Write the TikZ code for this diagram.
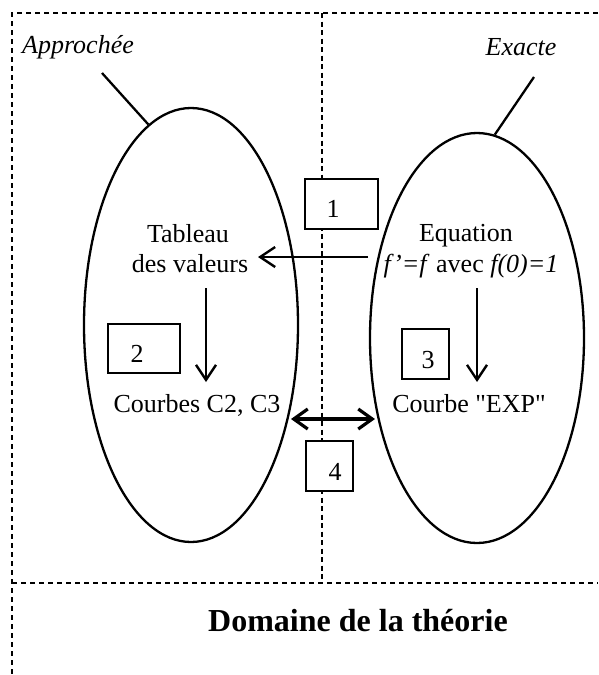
\documentclass[tikz,border=0pt]{standalone}
\usepackage{fontspec}
\setmainfont{Liberation Serif}
\newfontfamily\plainserif{Liberation Serif}
\usetikzlibrary{shapes.geometric,arrows.meta}
\begin{document}
\begin{tikzpicture}[x=1pt,y=-1pt,
  frame/.style={line width=1.4pt, dash pattern=on 5pt off 4pt},
  midline/.style={line width=1.1pt, dash pattern=on 5pt off 3.5pt},
  oval/.style={draw, ellipse, line width=2.3pt, inner sep=0pt},
  numbox/.style={draw, line width=2pt, fill=white, inner sep=0pt},
  txt/.style={font=\fontsize{26}{30}\selectfont, inner sep=0pt},
  arr/.style={line width=2.4pt, -{Straight Barb[length=15pt,width=20pt]}},
  darr/.style={line width=3.2pt, {Straight Barb[length=14pt,width=20pt]}-{Straight Barb[length=14pt,width=20pt]}},
  ]
\useasboundingbox (0,0) rectangle (598,675);
% frame
\coordinate (tl) at (12,13);
\coordinate (tr) at (598,13);
\coordinate (bl) at (12,675);
\coordinate (ml) at (12,583);
\coordinate (mr) at (598,583);
\coordinate (vt) at (322,13);
\coordinate (vb) at (322,583);
\draw[frame] (tr) -- (tl) -- (bl);
\draw[frame] (ml) -- (mr);
\draw[midline] (vt) -- (vb);

% ellipses
\node[oval, minimum width=214pt, minimum height=434pt] (L) at (191,325) {};
\node[oval, minimum width=214pt, minimum height=410pt] (R) at (477,338) {};

% titles
\node[txt, anchor=base west, font=\fontsize{26}{30}\selectfont\itshape] (appr) at (22,53) {Approchée};
\node[txt, anchor=base, font=\fontsize{26}{30}\selectfont\itshape] (exac) at (521,55) {Exacte};
\coordinate (aT) at (102,73);
\coordinate (eT) at (534,77);
\draw[line width=2.3pt] (aT) -- (L.102.3);
\draw[line width=2.3pt] (eT) -- (R.85.2);

% texts
\node[txt, anchor=base] (tab) at (188,242) {Tableau};
\node[txt, anchor=base] (dv) at (190,272) {des valeurs};
\node[txt, anchor=base] (eq) at (466,241) {Equation};
\node[txt, anchor=base] (ff) at (471,272) {\textit{f’=f} avec \textit{f(0)=1}};
\node[txt, anchor=base] (cc) at (197,412) {Courbes C2, C3};
\node[txt, anchor=base] (ce) at (469,412) {\plainserif Courbe "EXP"};
\node[anchor=base west, inner sep=0pt, font=\fontsize{32}{36}\selectfont\bfseries] (dom) at (208,631) {Domaine de la théorie};

% boxes
\node[numbox, minimum width=73pt, minimum height=50pt] (b1) at (341.5,204) {};
\node[numbox, minimum width=72pt, minimum height=49pt] (b2) at (144,348.5) {};
\node[numbox, minimum width=47pt, minimum height=50pt] (b3) at (425.5,354) {};
\node[numbox, minimum width=47pt, minimum height=50pt] (b4) at (329.5,466) {};
\node[txt, anchor=base] (n1) at (333,217) {1};
\node[txt, anchor=base] (n2) at (137,362) {2};
\node[txt, anchor=base] (n3) at (428,368) {3};
\node[txt, anchor=base] (n4) at (335,480) {4};

% arrows
\coordinate (a1s) at (368,257);
\coordinate (a1e) at (258,257);
\draw[arr] (a1s) -- (a1e);
\coordinate (a2s) at (206,288);
\coordinate (a2e) at (206,382);
\draw[arr] (a2s) -- (a2e);
\coordinate (a3s) at (477,288);
\coordinate (a3e) at (477,382);
\draw[arr] (a3s) -- (a3e);
\coordinate (a4s) at (291,419);
\coordinate (a4e) at (375,419);
\draw[darr] (a4s) -- (a4e);
\end{tikzpicture}
\end{document}
